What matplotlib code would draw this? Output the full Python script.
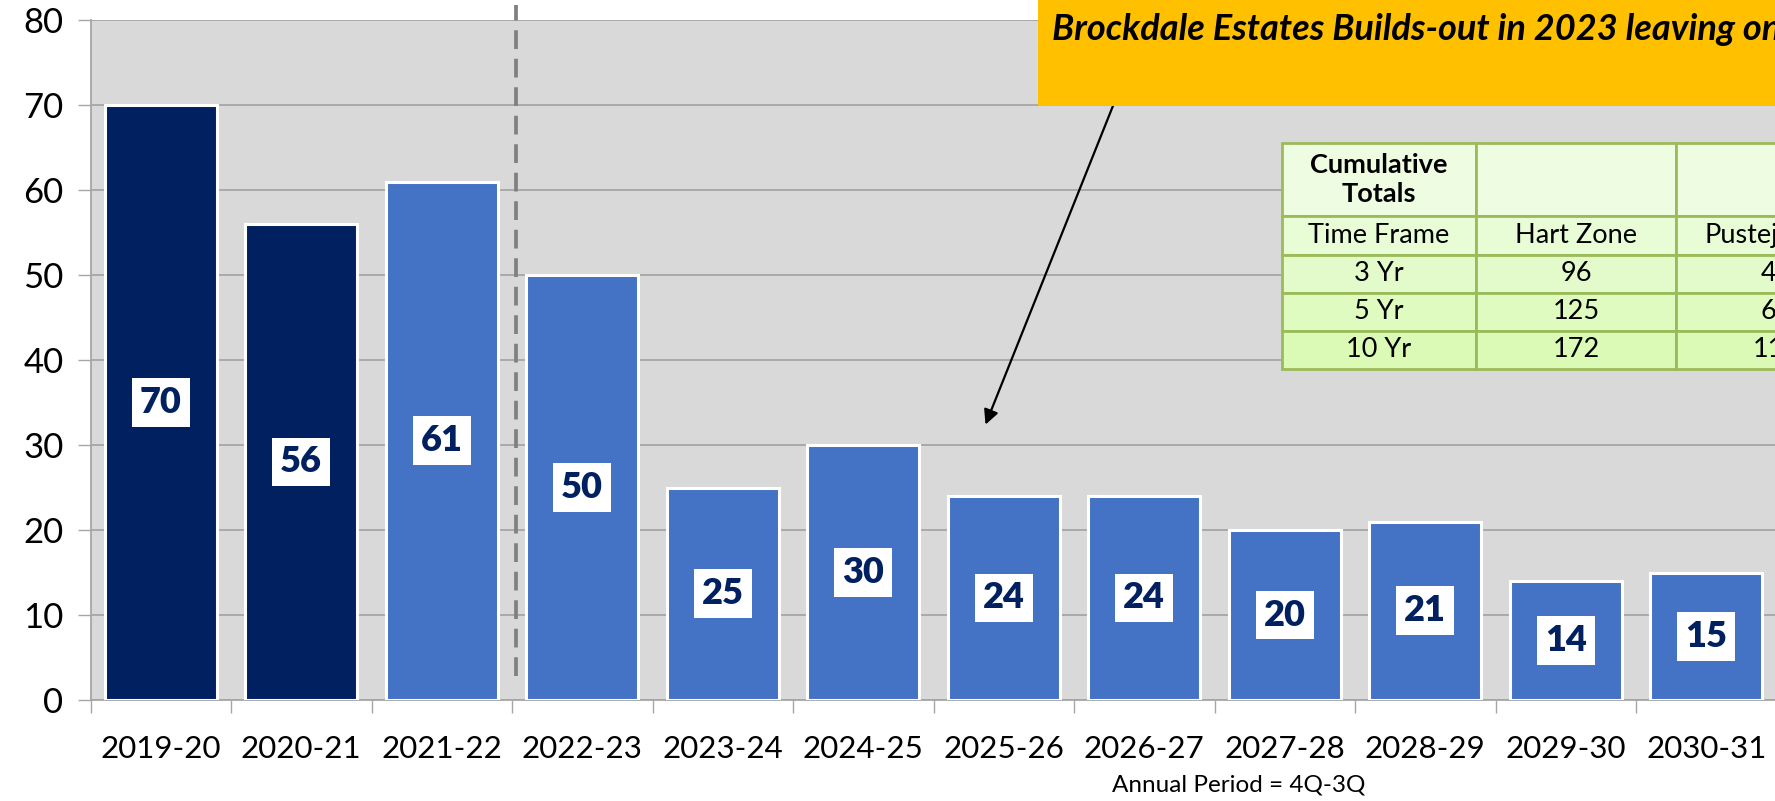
import matplotlib.pyplot as plt
import numpy as np

plt.rcParams['font.family'] = ['Lato', 'DejaVu Sans']

periods = ['2019-20', '2020-21', '2021-22', '2022-23', '2023-24', '2024-25',
           '2025-26', '2026-27', '2027-28', '2028-29', '2029-30', '2030-31']
students = [70, 56, 61, 50, 25, 30, 24, 24, 20, 21, 14, 15]
actual_years = 2   # first bars are actuals, rest are projections

table_rows = [['Cumulative\nTotals', '', ''],
              ['Time Frame', 'Hart Zone', 'Pustejovsky'],
              ['3 Yr', '96', '45'],
              ['5 Yr', '125', '68'],
              ['10 Yr', '172', '118']]

callout = 'Brockdale Estates Builds-out in 2023 leaving only'

navy = '#002060'
blue = '#4472C4'
grid = '#A6A6A6'

fig = plt.figure(figsize=(17.75, 8.01), dpi=100)
ax = fig.add_axes([90.5 / 1775, 101 / 801, 1686 / 1775, 680 / 801])
ax.set_facecolor('#D9D9D9')

x = np.arange(len(periods))
colors = [navy if i < actual_years else blue for i in x]
bars = ax.bar(x, students, width=0.8, color=colors, edgecolor='white',
              linewidth=2.2, zorder=3)

for xi, v in zip(x, students):
    ax.text(xi, v / 2, str(v), ha='center', va='center', fontsize=26,
            fontweight='heavy', color=navy, zorder=4,
            bbox=dict(boxstyle='square,pad=0.22', fc='white', ec='none'))

ax.set_xlim(-0.5, len(periods) - 0.5)
ax.set_ylim(0, 80)
ax.set_yticks(range(0, 81, 10))
ax.set_xticks(x)
ax.set_xticklabels(periods)
ax.set_xticks(np.arange(-0.5, len(periods), 1), minor=True)
ax.tick_params(axis='x', which='major', length=0, pad=25, labelsize=22.5)
ax.tick_params(axis='x', which='minor', length=9.5, width=1, color=grid)
ax.tick_params(axis='y', length=9.5, width=1, color=grid, pad=10, labelsize=25)

ax.set_axisbelow(True)
ax.yaxis.grid(True, color=grid, linewidth=1.3)
for s in ['top', 'right']:
    ax.spines[s].set_visible(False)
ax.spines['left'].set_color(grid)
ax.spines['bottom'].set_color(grid)
ax.spines['left'].set_linewidth(1.3)
ax.spines['bottom'].set_linewidth(1.3)

# split between actual and projected years
ax.axvline(2.525, ymin=0.035, ymax=1.0226, color='#808080', linewidth=2.7,
           linestyle=(0, (5, 2.6)), clip_on=False, zorder=2)

ax.text(0.681, -0.125, 'Annual Period = 4Q-3Q', transform=ax.transAxes,
        ha='center', va='center', fontsize=17.5)

# cumulative totals table
tbl = ax.table(cellText=table_rows, cellLoc='center',
               bbox=[0.7067, 0.4868, 0.3523, 0.332], zorder=5)
tbl.auto_set_font_size(False)
row_heights = [73, 38, 38, 38, 38]
col_widths = [194, 200, 200]
row_fill = ['#EEFCE2', '#E8FCD6', '#E3FBCB', '#DFFBC0', '#DBFAB5']
for (r, c), cell in tbl.get_celld().items():
    cell.set_height(row_heights[r])
    cell.set_width(col_widths[c])
    cell.set_facecolor(row_fill[r])
    cell.set_edgecolor('#9BBB59')
    cell.set_linewidth(2)
    t = cell.get_text()
    t.set_fontsize(19.5)
    if r == 0:
        t.set_fontweight('bold')
        t.set_linespacing(1.25)

# callout banner
fig.patches.append(plt.Rectangle((1038 / 1775, 1 - 106 / 801), 0.5, 0.2,
                                 transform=fig.transFigure, fc='#FFC000',
                                 ec='none', zorder=6))
fig.text(1052 / 1775, 1 - 40 / 801, callout, fontsize=26, fontweight='bold',
         fontstyle='italic', ha='left', va='baseline', zorder=7)

ax.annotate('', xy=(5.87, 32.4), xytext=(6.78, 70),
            arrowprops=dict(arrowstyle='-|>', color='black', lw=1.6,
                            mutation_scale=22, shrinkA=0, shrinkB=0),
            zorder=6, annotation_clip=False)

fig.savefig('out.png', dpi=100)
